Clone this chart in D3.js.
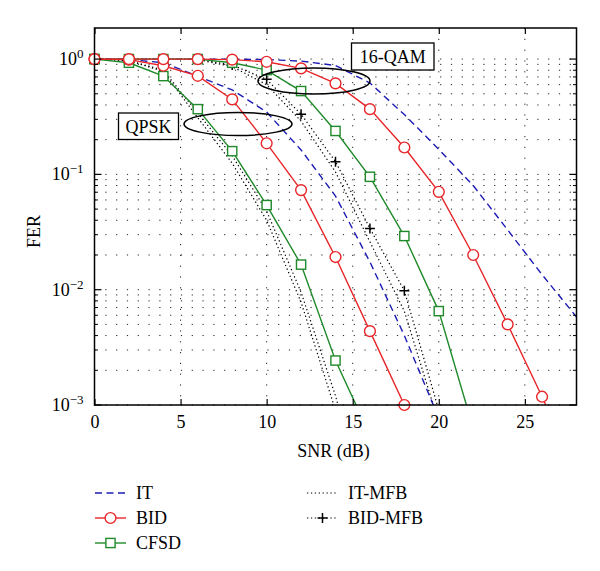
<!DOCTYPE html>
<html><head><meta charset="utf-8">
<script src="https://cdn.jsdelivr.net/npm/d3@7"></script>
<style>body{margin:0;background:#fff}svg{display:block}</style>
</head><body>
<svg id="c" width="600" height="571" font-family="Liberation Serif, DejaVu Serif, serif"></svg>
<script>
// ---- data ----
const qpskBIDx = [0,2,4,6,8,10,12,14,16,18];
const qpskBID  = [1.0,0.99,0.875,0.716,0.447,0.186,0.0731,0.0192,0.00437,0.001];
const qpskCFSDx = [0,2,4,6,8,10,12,14,16];
const qpskCFSD  = [1.0,0.929,0.712,0.368,0.159,0.0542,0.0165,0.00243,0.00055];
const qpskITx = [0,2,4,6,8,10,12,14,16,18,20];
const qpskIT  = [1.0,0.99,0.93,0.71,0.54,0.347,0.163,0.0648,0.0174,0.004,0.00077];
const qpskITMFBx = [0,2,4,6,8,10,12,14,16];
const qpskITMFB  = [1.0,0.97,0.8,0.34,0.145,0.048,0.0095,0.0012,0.0001];
const qpskBIDMFBx = [0,2,4,6,8,10,12,14,16];
const qpskBIDMFB  = [1.0,0.97,0.78,0.31,0.125,0.04,0.0078,0.0009,0.0001];

const qamBIDx = [0,2,4,6,8,10,12,14,16,18,20,22,24,26,28];
const qamBID  = [1.0,1.0,1.0,1.0,0.99,0.947,0.83,0.616,0.368,0.171,0.0706,0.02,0.005,0.00118,0.00025];
const qamCFSDx = [0,2,4,6,8,10,12,14,16,18,20,22];
const qamCFSD  = [1.0,1.0,1.0,1.0,0.929,0.803,0.528,0.238,0.0953,0.0292,0.00652,0.00063];
const qamITx = [0,2,4,6,8,10,12,14,16,18,20,22,24,26,28];
const qamIT  = [1.0,1.0,1.0,1.0,1.0,0.99,0.96,0.88,0.62,0.33,0.165,0.08,0.033,0.0135,0.0058];
const qamITMFBx = [0,2,4,6,8,10,12,14,16,18,20];
const qamITMFB  = [1.0,1.0,1.0,0.99,0.86,0.6,0.29,0.105,0.026,0.0065,0.0007];
const qamBIDMFBx = [0,2,4,6,8,10,12,14,16,18,20];
const qamBIDMFB  = [1.0,1.0,1.0,1.0,0.887,0.667,0.333,0.129,0.034,0.0098,0.0009];

const xTicks = [0,5,10,15,20,25];
const yTicks = [1,0.1,0.01,0.001];
const yTickExp = ["0","\u22121","\u22122","\u22123"];
const legendNames = ["IT","BID","CFSD","IT-MFB","BID-MFB"];

// ---- layout ----
const FONT = "Liberation Serif, DejaVu Serif, serif";
const L = 94.5, R = 576.5, T = 28, B = 405;
const svg = d3.select("#c");
const x = d3.scaleLinear().domain([0,28]).range([L,R]);
const y = d3.scaleLog().domain([1e-3, 1.86]).range([B,T]);

const C = {blue:"#1c1cb4", red:"#e8262a", green:"#1f8a2a", black:"#000"};

// grid
const gridG = svg.append("g");
const minor = [];
for (let e=-3; e<=0; e++) for (let m=1; m<=9; m++) { const v = m*Math.pow(10,e); if (v<=1.86 && v>=1e-3) minor.push(v); }
gridG.selectAll("line.h").data(minor).join("line")
  .attr("x1",L).attr("x2",R).attr("y1",d=>y(d)).attr("y2",d=>y(d))
  .attr("stroke","#222").attr("stroke-width",1).attr("stroke-dasharray","1.2,9.6");
gridG.selectAll("line.v").data(xTicks.slice(1)).join("line")
  .attr("x1",d=>x(d)).attr("x2",d=>x(d)).attr("y1",T).attr("y2",B)
  .attr("stroke","#222").attr("stroke-width",1).attr("stroke-dasharray","1.2,9.6");

// clip
svg.append("clipPath").attr("id","clip").append("rect").attr("x",L).attr("y",T).attr("width",R-L).attr("height",B-T);

const line = d3.line().x(d=>x(d[0])).y(d=>y(d[1]));
const zip = (xs,vs)=>xs.map((v,i)=>[v,vs[i]]);
const series = [
  {xs:qpskITMFBx, vs:qpskITMFB, color:C.black, dash:"1.3,2.6", w:1.2, mk:null},
  {xs:qpskBIDMFBx, vs:qpskBIDMFB, color:C.black, dash:"1.3,2.6", w:1.2, mk:null},
  {xs:qamITMFBx, vs:qamITMFB, color:C.black, dash:"1.3,2.6", w:1.2, mk:null},
  {xs:qamBIDMFBx, vs:qamBIDMFB, color:C.black, dash:"1.3,2.6", w:1.2, mk:"plus"},
  {xs:qpskITx, vs:qpskIT, color:C.blue, dash:"7,4.5", w:1.4, mk:null},
  {xs:qamITx, vs:qamIT, color:C.blue, dash:"7,4.5", w:1.4, mk:null},
  {xs:qpskCFSDx, vs:qpskCFSD, color:C.green, dash:null, w:1.4, mk:"square"},
  {xs:qamCFSDx, vs:qamCFSD, color:C.green, dash:null, w:1.4, mk:"square"},
  {xs:qpskBIDx, vs:qpskBID, color:C.red, dash:null, w:1.4, mk:"circle"},
  {xs:qamBIDx, vs:qamBID, color:C.red, dash:null, w:1.4, mk:"circle"},
];
const plotG = svg.append("g");
function drawMarker(g, type, cx, cy, color){
  if (type==="circle") g.append("circle").attr("cx",cx).attr("cy",cy).attr("r",5.4).attr("fill","#fff").attr("stroke",color).attr("stroke-width",1.4);
  else if (type==="square") g.append("rect").attr("x",cx-4.6).attr("y",cy-4.6).attr("width",9.2).attr("height",9.2).attr("fill","#fff").attr("stroke",color).attr("stroke-width",1.4);
  else if (type==="plus") g.append("path").attr("d",`M${cx-5},${cy}H${cx+5}M${cx},${cy-5}V${cy+5}`).attr("stroke",color).attr("stroke-width",1.5).attr("fill","none");
}
series.forEach(s=>{
  const pts = zip(s.xs,s.vs);
  const p = plotG.append("path").datum(pts).attr("d",line).attr("clip-path","url(#clip)")
    .attr("fill","none").attr("stroke",s.color).attr("stroke-width",s.w);
  if (s.dash) p.attr("stroke-dasharray",s.dash);
});
series.forEach(s=>{
  if (!s.mk) return;
  const pts = zip(s.xs,s.vs).filter(d=>d[1]>=0.00099 && d[0]<=28);
  pts.forEach(d=>drawMarker(plotG, s.mk, x(d[0]), y(d[1]), s.color));
});

// annotations
const ann = svg.append("g");
ann.append("ellipse").attr("cx",238).attr("cy",124).attr("rx",54).attr("ry",11.5).attr("fill","none").attr("stroke","#000").attr("stroke-width",1.5);
ann.append("ellipse").attr("cx",314).attr("cy",81).attr("rx",56).attr("ry",13).attr("fill","none").attr("stroke","#000").attr("stroke-width",1.5);
ann.append("rect").attr("x",118.5).attr("y",113).attr("width",60).attr("height",26.5).attr("fill","#fff").attr("stroke","#000").attr("stroke-width",1.3);
ann.append("text").attr("x",148.5).attr("y",132.5).attr("text-anchor","middle").attr("font-family",FONT).attr("font-size",18).text("QPSK");
ann.append("rect").attr("x",351.5).attr("y",43).attr("width",82.5).attr("height",27).attr("fill","#fff").attr("stroke","#000").attr("stroke-width",1.3);
ann.append("text").attr("x",392.8).attr("y",62.5).attr("text-anchor","middle").attr("font-family",FONT).attr("font-size",18).text("16-QAM");

// frame & ticks
const ax = svg.append("g");
ax.append("rect").attr("x",L).attr("y",T).attr("width",R-L).attr("height",B-T).attr("fill","none").attr("stroke","#000").attr("stroke-width",1.5);
const xAxB = d3.axisBottom(x).tickValues(xTicks).tickSize(-6).tickFormat(d=>d);
const gx = ax.append("g").attr("transform",`translate(0,${B})`).call(xAxB);
gx.attr("font-family",FONT).attr("font-size",18);
gx.select(".domain").remove();
gx.selectAll("text").attr("dy","1.1em").attr("fill","#000").attr("font-family",FONT).attr("font-size",18);
gx.selectAll("line").attr("stroke","#000").attr("stroke-width",1.2);
const gxt = ax.append("g").attr("transform",`translate(0,${T})`).call(d3.axisTop(x).tickValues(xTicks).tickSize(-6).tickFormat(""));
gxt.select(".domain").remove(); gxt.selectAll("line").attr("stroke","#000").attr("stroke-width",1.2);
// y ticks: major & minor, left and right
const yMaj = yTicks;
const yMin = minor.filter(v=>!yMaj.some(m=>Math.abs(m-v)<1e-12));
[[L,1],[R,-1]].forEach(([px,dir])=>{
  ax.selectAll(null).data(yMaj).join("line").attr("x1",px).attr("x2",px+dir*7).attr("y1",d=>y(d)).attr("y2",d=>y(d)).attr("stroke","#000").attr("stroke-width",1.2);
  ax.selectAll(null).data(yMin).join("line").attr("x1",px).attr("x2",px+dir*3.5).attr("y1",d=>y(d)).attr("y2",d=>y(d)).attr("stroke","#000").attr("stroke-width",1);
});
yTicks.forEach((v,i)=>{
  const t = ax.append("text").attr("x",L-11).attr("y",y(v)+6).attr("text-anchor","end").attr("font-family",FONT).attr("font-size",18);
  t.append("tspan").text("10");
  t.append("tspan").attr("dy",-7).attr("font-size",13).text(yTickExp[i]);
});
ax.append("text").attr("x",(L+R)/2 - 2).attr("y",457).attr("text-anchor","middle").attr("font-family",FONT).attr("font-size",18).text("SNR (dB)");
ax.append("text").attr("transform",`translate(40,${(T+B)/2+15}) rotate(-90)`).attr("text-anchor","middle").attr("font-family",FONT).attr("font-size",18).text("FER");

// legend
const lg = svg.append("g");
const legItems = [
  {name:legendNames[0], color:C.blue, dash:"7,4.5", mk:null, lx:95, ly:493},
  {name:legendNames[1], color:C.red, dash:null, mk:"circle", lx:95, ly:518},
  {name:legendNames[2], color:C.green, dash:null, mk:"square", lx:95, ly:543},
  {name:legendNames[3], color:C.black, dash:"1.3,2.6", mk:null, lx:307, ly:493},
  {name:legendNames[4], color:C.black, dash:"1.3,2.6", mk:"plus", lx:307, ly:518},
];
legItems.forEach(it=>{
  const l = lg.append("line").attr("x1",it.lx).attr("x2",it.lx+31).attr("y1",it.ly).attr("y2",it.ly).attr("stroke",it.color).attr("stroke-width",it.color===C.black?1.2:1.4);
  if (it.dash) l.attr("stroke-dasharray",it.dash);
  if (it.mk) drawMarker(lg, it.mk, it.lx+15.5, it.ly, it.color);
  lg.append("text").attr("x",it.lx+41).attr("y",it.ly+6).attr("font-family",FONT).attr("font-size",18).text(it.name);
});
</script>
</body></html>
